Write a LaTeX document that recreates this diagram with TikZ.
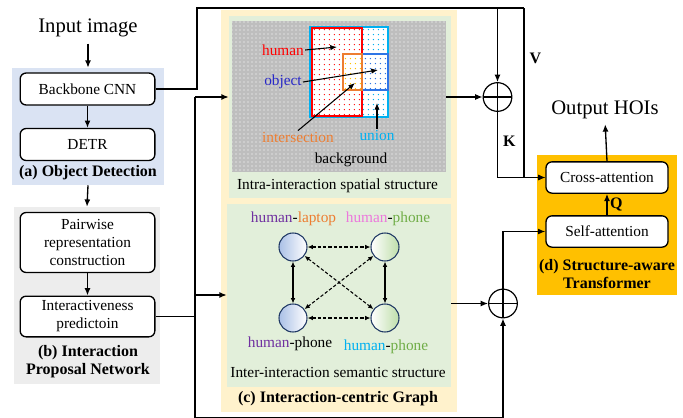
\documentclass[tikz,border=0pt]{standalone}
\usepackage{fontspec}
\setmainfont{Liberation Serif}
\usetikzlibrary{arrows.meta,patterns.meta,fit}

\definecolor{detblue}{RGB}{218,227,243}
\definecolor{ipngray}{RGB}{237,237,237}
\definecolor{graphyellow}{RGB}{255,242,204}
\definecolor{structgreen}{RGB}{226,239,218}
\definecolor{tfgold}{RGB}{255,192,0}
\definecolor{bggray}{RGB}{190,190,190}
\definecolor{humred}{RGB}{255,0,0}
\definecolor{objblue}{RGB}{40,40,200}
\definecolor{boxblue}{RGB}{46,117,230}
\definecolor{unioncyan}{RGB}{0,176,240}
\definecolor{interorange}{RGB}{237,125,49}
\definecolor{dotgold}{RGB}{255,192,0}
\definecolor{purp}{RGB}{112,48,160}
\definecolor{pinkh}{RGB}{236,120,220}
\definecolor{phgreen}{RGB}{112,173,71}
\definecolor{nodeblue}{RGB}{170,192,230}
\definecolor{nodegreen}{RGB}{190,222,170}
\definecolor{rimblue}{RGB}{31,56,100}

\tikzset{
  txt/.style={font=\fontsize{11.5}{13.5}\selectfont, inner sep=0.75pt, align=center},
  capt/.style={font=\fontsize{12}{13.5}\selectfont\bfseries, inner sep=0.75pt, align=center},
  big/.style={font=\fontsize{15.5}{18}\selectfont, inner sep=0.75pt},
  box/.style={draw, line width=1pt, rounded corners=4.5pt, fill=white, minimum width=101pt, minimum height=24pt, align=center, font=\fontsize{11.5}{13.5}\selectfont, inner sep=1pt},
  attn/.style={box, minimum width=91.5pt, minimum height=23.5pt},
  region/.style={inner sep=0pt, draw=none},
  conn/.style={line width=1pt},
  arr/.style={line width=1pt, -{Latex[length=5.5pt,width=4.5pt]}},
  pointer/.style={line width=0.8pt, -{Latex[length=5pt,width=4pt]}},
  oplus/.style={circle, draw, line width=0.9pt, minimum size=21.5pt, inner sep=0pt,
    path picture={\draw[line width=0.9pt] (path picture bounding box.north) -- (path picture bounding box.south) (path picture bounding box.west) -- (path picture bounding box.east);}},
  gnode/.style={circle, draw=rimblue, line width=0.8pt, minimum size=21pt, inner sep=0pt},
  gedge/.style={line width=0.8pt, {Latex[length=4pt,width=3.5pt]}-{Latex[length=4pt,width=3.5pt]}},
  dotfill/.style={fill=white, postaction={pattern={Dots[radius=0.6pt,distance=4pt]}, pattern color=#1}},
}

\begin{document}
\begin{tikzpicture}[x=0.75pt,y=0.75pt,yscale=-1,xscale=1]
\useasboundingbox (0,0) rectangle (683,418);

%Shape: Rectangle (regions)
\node [region, fill=detblue, fit={(12,68) (164,185)}] (detregion) {};
\node [region, fill=ipngray, fit={(14,207) (160,384)}] (ipnregion) {};
\node [region, fill=graphyellow, fit={(221,10) (457,412)}] (graphregion) {};
\node [region, fill=structgreen, fit={(229,16) (451,198)}] (intragreen) {};
\node [region, fill=structgreen, fit={(227,204) (451,387)}] (intergreen) {};
\node [region, fill=bggray, postaction={pattern={Dots[radius=0.5pt,distance=3pt]}, pattern color=white}, fit={(232,21) (446,172)}] (bgregion) {};
\node [region, fill=tfgold, fit={(537,155) (677,295)}] (tfregion) {};

% Text Node
\draw (88,28) node [big] (inputimg) {Input image};
\draw (87.5,89) node [box] (backbone) {Backbone CNN};
\draw (87.5,144.5) node [box] (detr) {DETR};
\draw (88,173) node [capt] (capa) {(a) Object Detection};
\draw (87.5,242.5) node [box, minimum height=45pt] (pairwise) {Pairwise\\representation\\construction};
\draw (87.5,316.5) node [box, minimum height=30.5pt] (interact) {Interactiveness\\predictoin};
\draw (88,361.5) node [capt] (capb) {(b) Interaction\\Proposal Network};

%Straight Lines
\draw [arr, shorten <=4pt] (inputimg.south) -- (detregion.north);
\draw [arr] (backbone) -- (detr);
\draw [arr] (detregion.south) -- (ipnregion.north);
\draw [arr] (pairwise) -- (interact);

%Shape: Rectangle (spatial boxes)
\draw [unioncyan, line width=1pt, dotfill=unioncyan] (310,27) rectangle (388,117);
\draw [humred, line width=1pt, dotfill=humred] (312,28) rectangle (362,116);
\draw [boxblue, line width=1pt, dotfill=boxblue] (343,54) rectangle (388,90);
\draw [interorange, line width=1pt, dotfill=dotgold] (343,54) rectangle (362,90);

% Text Node
\draw (283,50) node [txt, text=humred] (lhuman) {human};
\draw (283,82) node [txt, text=objblue] (lobject) {object};
\draw (298,137) node [txt, text=interorange] (lint) {intersection};
\draw (377,135) node [txt, text=unioncyan] (lunion) {union};
\draw (351,160) node [txt] (lbg) {background};
\draw (337.5,186) node [txt] (lintra) {Intra-interaction spatial structure};
\coordinate (phuman) at (337,47);
\coordinate (pobject) at (378,70);
\coordinate (pint) at (355,83);
\coordinate (punion) at (377,103);
\draw [pointer] (lhuman.east) -- (phuman);
\draw [pointer] (lobject.east) -- (pobject);
\draw [pointer] (lint.north) -- (pint);
\draw [pointer] (lunion.north) -- (punion);

%Shape: Circle (graph)
\draw (293,247) node [gnode, left color=nodeblue, right color=white] (gtl) {};
\draw (385,247) node [gnode, left color=white, right color=nodegreen] (gtr) {};
\draw (293,318) node [gnode, left color=nodeblue, right color=white] (gbl) {};
\draw (385,318) node [gnode, left color=white, right color=nodegreen] (gbr) {};
\draw [gedge] (gtl) -- (gbl);
\draw [gedge] (gtr) -- (gbr);
\draw [gedge, dash pattern={on 2.5pt off 1.5pt}] (gtl) -- (gtr);
\draw [gedge, dash pattern={on 2.5pt off 1.5pt}] (gbl) -- (gbr);
\draw [gedge, dash pattern={on 2.5pt off 1.5pt}] (gtl) -- (gbr);
\draw [gedge, dash pattern={on 2.5pt off 1.5pt}] (gtr) -- (gbl);

% Text Node
\draw (293.5,219) node [txt] (ltl) {\textcolor{purp}{human}-\textcolor{interorange}{laptop}};
\draw (388,219) node [txt] (ltr) {\textcolor{pinkh}{human}-\textcolor{phgreen}{phone}};
\draw (290,344) node [txt] (lbl) {\textcolor{purp}{human}-phone};
\draw (386,347) node [txt] (lbr) {\textcolor{unioncyan}{human}-\textcolor{phgreen}{phone}};
\draw (338,372) node [txt] (linter) {Inter-interaction semantic structure};
\draw (338,399) node [capt] (capc) {(c) Interaction-centric Graph};

%Shape: Circle (sum)
\draw (497.5,97) node [oplus] (plus1) {};
\draw (503,303.5) node [oplus] (plus2) {};

% Text Node
\draw (607,177.5) node [attn] (crossatt) {Cross-attention};
\draw (607,231.5) node [attn] (selfatt) {Self-attention};
\draw (607,274) node [capt] (capd) {(d) Structure-aware\\Transformer};
\draw (605,110) node [big] (output) {Output HOIs};

%Straight Lines
\coordinate (ctop) at (197,8);
\coordinate (vtop) at (524,8);
\coordinate (bustop) at (195,97);
\coordinate (busmid) at (195,295);
\coordinate (busbot) at (195,417.5);
\draw [conn] (backbone.east) -| (ctop) -- (vtop);
\draw [arr] (vtop) |- (crossatt.west) node [pos=0.15, right=3pt, capt] {V};
\draw [arr] (plus1 |- ctop) -- (plus1.north);
\draw [arr] (plus1.south) |- (crossatt.west) node [pos=0.22, right=3pt, capt] {K};
\draw [arr] (bgregion.east |- plus1) -- (plus1.west);
\draw [conn] (interact.east) -- (interact.east -| bustop);
\draw [arr] (bustop) -- (intragreen.west |- bustop);
\draw [arr] (busmid) -- (intergreen.west |- busmid);
\draw [arr] (bustop) -- (busbot) -| (plus2.south);
\draw [arr] (intergreen.east |- plus2) -- (plus2.west);
\draw [arr] (plus2.north) |- (selfatt.west);
\draw [arr] (selfatt.north) -- (crossatt.south) node [midway, right=1pt, capt] {Q};
\draw [arr, shorten >=3pt] (crossatt.north) -- (output.south);

\end{tikzpicture}
\end{document}
